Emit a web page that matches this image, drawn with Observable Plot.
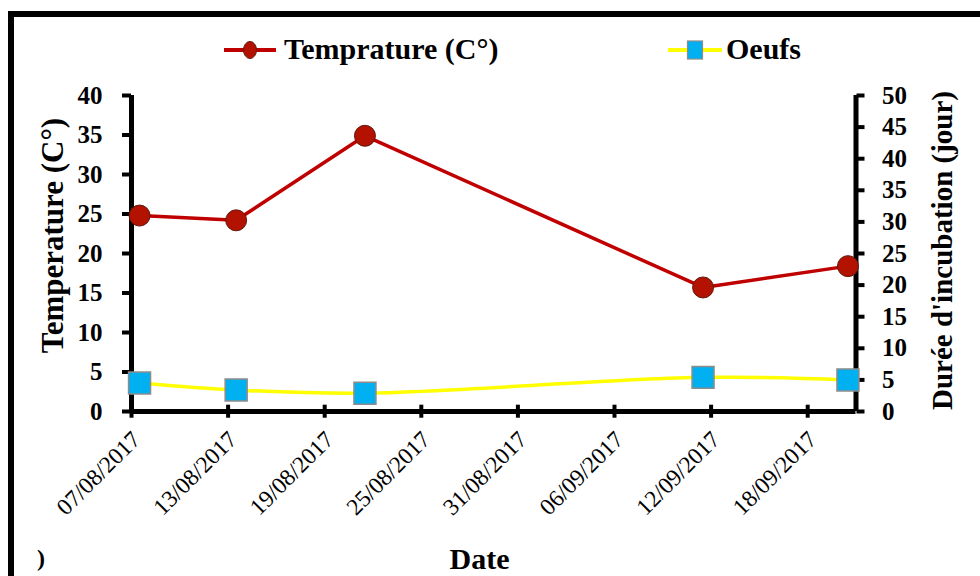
<!DOCTYPE html>
<html><head><meta charset="utf-8">
<script src="https://cdn.jsdelivr.net/npm/d3@7"></script>
<script src="https://cdn.jsdelivr.net/npm/@observablehq/plot@0.6"></script>
<style>
html,body{margin:0;padding:0;background:#fff;}
#wrap{position:relative;width:980px;height:576px;overflow:hidden;background:#fff;font-family:"Liberation Serif","Times New Roman",serif;}
#frame{position:absolute;left:8px;top:11px;width:1000px;height:600px;border-left:6px solid #000;border-top:6px solid #000;box-sizing:border-box;}
#chart{position:absolute;left:0;top:0;}
#legend{position:absolute;left:0;top:0;}
#stray{position:absolute;left:37px;top:544px;font:bold 24px "Liberation Serif",serif;line-height:28px;}
</style></head><body>
<div id="wrap"><div id="frame"></div><div id="chart"></div><svg id="legend" width="980" height="80"></svg><span id="stray">)</span></div>
<script>
// ---- data ----
const dates = ["2017-08-07", "2017-08-13", "2017-08-21", "2017-09-11", "2017-09-20"];
const temperature = [24.8, 24.2, 34.9, 15.7, 18.4];
const oeufs = [4.5, 3.4, 2.9, 5.4, 5.0];
const xTickLabels = ["07/08/2017", "13/08/2017", "19/08/2017", "25/08/2017", "31/08/2017", "06/09/2017", "12/09/2017", "18/09/2017"];
const leftTicks = [0, 5, 10, 15, 20, 25, 30, 35, 40];
const rightTicks = [0, 5, 10, 15, 20, 25, 30, 35, 40, 45, 50];
const xDomain = ["2017-08-07", "2017-09-21"];
const seriesNames = ["Temprature (C°)", "Oeufs"];
const axisTitles = ["Temperature (C°)", "Durée d'incubation (jour)", "Date"];

// ---- derived ----
const parse = d3.utcParse("%Y-%m-%d");
const parseTick = d3.utcParse("%d/%m/%Y");
const noon = s => d3.utcHour.offset(parse(s), 12);
const ratio = 40 / 50; // right axis (0-50) onto left axis (0-40)
const tempData = dates.map((d, i) => ({date: noon(d), value: temperature[i]}));
const eggData = dates.map((d, i) => ({date: noon(d), value: oeufs[i] * ratio}));
const tickDates = xTickLabels.map(s => parseTick(s));
const x0 = parse(xDomain[0]), x1 = parse(xDomain[1]);

const redLine = "#C00000", redFill = "#B41200", redStroke = "#5C1A0F";
const yellow = "#FFFF00", blue = "#00B0F0", blueStroke = "#8C8C8C";

const plot = Plot.plot({
  width: 980, height: 576,
  marginLeft: 131, marginRight: 124.5, marginTop: 95, marginBottom: 165,
  x: {type: "utc", domain: [x0, x1], axis: null},
  y: {domain: [0, 40]},
  style: {fontFamily: "'Liberation Serif', 'Times New Roman', serif", color: "#000", background: "transparent", overflow: "visible"},
  marks: [
    Plot.axisY({anchor: "left", ticks: leftTicks, tickSize: 9, tickPadding: 20, fontSize: 25, fontWeight: "bold", strokeWidth: 4, label: null}),
    Plot.axisY({anchor: "right", ticks: rightTicks.map(v => v * ratio), tickFormat: v => String(Math.round(v / ratio)), tickSize: 8, tickPadding: 18, fontSize: 25, fontWeight: "bold", strokeWidth: 4, label: null}),
    Plot.ruleX(tickDates, {y1: -0.85, y2: 0.8, strokeWidth: 4}),
    Plot.text(xTickLabels, {x: (d, i) => tickDates[i], frameAnchor: "bottom", rotate: -45, textAnchor: "end", lineAnchor: "middle", dx: 5, dy: 24, fontSize: 23.5}),
    Plot.ruleX([x0], {strokeWidth: 5}),
    Plot.ruleX([x1], {strokeWidth: 5}),
    Plot.ruleY([0], {strokeWidth: 5}),
    Plot.line(eggData, {x: "date", y: "value", stroke: yellow, strokeWidth: 3.5, curve: "catmull-rom"}),
    Plot.line(tempData, {x: "date", y: "value", stroke: redLine, strokeWidth: 3.5}),
    Plot.dot(eggData, {x: "date", y: "value", symbol: "square", r: 12.4, fill: blue, stroke: blueStroke, strokeWidth: 1.5}),
    Plot.dot(tempData, {x: "date", y: "value", r: 10.5, fill: redFill, stroke: redStroke, strokeWidth: 1}),
    Plot.text([axisTitles[0]], {frameAnchor: "left", textAnchor: "middle", lineAnchor: "middle", rotate: -90, dx: 53 - 131, dy: 235 - 253, fontSize: 31, fontWeight: "bold"}),
    Plot.text([axisTitles[1]], {frameAnchor: "right", textAnchor: "middle", lineAnchor: "middle", rotate: -90, dx: 942.5 - 855.5, dy: 250 - 253, fontSize: 29, fontWeight: "bold"}),
    Plot.text([axisTitles[2]], {frameAnchor: "bottom", textAnchor: "middle", dx: 479 - 493.25, dy: 148, fontSize: 30, fontWeight: "bold", lineAnchor: "middle"})
  ]
});
document.getElementById("chart").appendChild(plot);

// ---- legend ----
const lg = d3.select("#legend");
const ly = 50;
// item 1
lg.append("line").attr("x1", 224).attr("x2", 276).attr("y1", ly).attr("y2", ly).attr("stroke", redLine).attr("stroke-width", 4);
lg.append("ellipse").attr("cx", 250).attr("cy", ly).attr("rx", 6.5).attr("ry", 8.5).attr("fill", redFill).attr("stroke", redStroke).attr("stroke-width", 1);
lg.append("text").attr("x", 284).attr("y", ly + 9).attr("font-family", "'Liberation Serif', serif").attr("font-weight", "bold").attr("font-size", 30).text(seriesNames[0]);
// item 2
lg.append("line").attr("x1", 668).attr("x2", 722).attr("y1", ly).attr("y2", ly).attr("stroke", yellow).attr("stroke-width", 4);
lg.append("rect").attr("x", 687.5).attr("y", ly - 9).attr("width", 15).attr("height", 18).attr("fill", blue).attr("stroke", blueStroke).attr("stroke-width", 1.2);
lg.append("text").attr("x", 726).attr("y", ly + 9).attr("font-family", "'Liberation Serif', serif").attr("font-weight", "bold").attr("font-size", 30).text(seriesNames[1]);
</script>
</body></html>
